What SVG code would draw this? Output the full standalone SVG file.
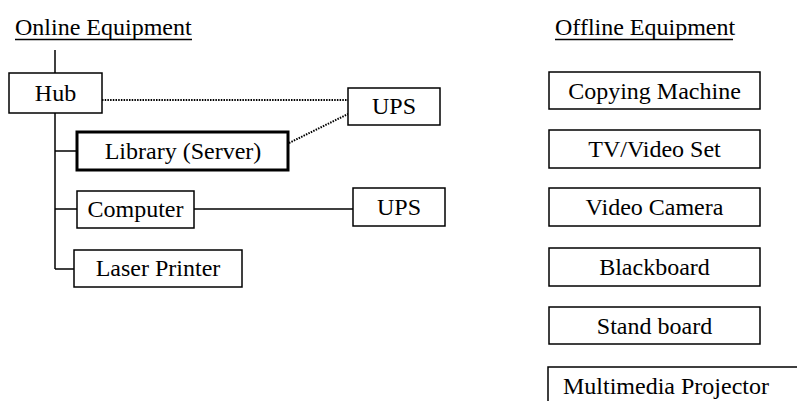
<svg xmlns="http://www.w3.org/2000/svg" width="797" height="401" viewBox="0 0 797 401">
<style>
text{font-family:"Liberation Serif","Times New Roman",serif;font-size:24px;fill:#000}
.c{text-anchor:middle}
.box{fill:#fff;stroke:#000;stroke-width:1.5}
.thick{fill:#fff;stroke:#000;stroke-width:3}
.ln{stroke:#000;stroke-width:1.5;fill:none}
.dot{stroke:#000;stroke-width:2;fill:none;stroke-dasharray:1.5 1.2}
</style>
<rect width="797" height="401" fill="#fff"/>
<g id="headings">
<text x="15" y="35">Online Equipment</text>
<line class="ln" x1="15" y1="39.5" x2="192" y2="39.5"/>
<text x="555" y="35">Offline Equipment</text>
<line class="ln" x1="555" y1="39.5" x2="733" y2="39.5"/>
</g>
<g id="connectors">
<line class="ln" x1="55" y1="50" x2="55" y2="73"/>
<line class="ln" x1="55" y1="113" x2="55" y2="269"/>
<line class="ln" x1="55" y1="151" x2="77" y2="151"/>
<line class="ln" x1="55" y1="209" x2="77" y2="209"/>
<line class="ln" x1="55" y1="269" x2="74" y2="269"/>
<line class="ln" x1="194" y1="209" x2="353" y2="209"/>
<line class="dot" x1="102" y1="100" x2="348" y2="100"/>
<line class="dot" x1="289" y1="143" x2="348" y2="114"/>
</g>
<g id="hub"><rect class="box" x="9" y="73" width="93" height="40"/><text class="c" x="55.5" y="101">Hub</text></g>
<g id="library"><rect class="thick" x="77" y="132" width="211" height="38"/><text class="c" x="183" y="159">Library (Server)</text></g>
<g id="computer"><rect class="box" x="77" y="191" width="117" height="37"/><text class="c" x="135.5" y="217">Computer</text></g>
<g id="laser"><rect class="box" x="74" y="250" width="168" height="37"/><text class="c" x="158" y="276">Laser Printer</text></g>
<g id="ups1"><rect class="box" x="348" y="88" width="92" height="37"/><text class="c" x="394" y="114">UPS</text></g>
<g id="ups2"><rect class="box" x="353" y="188" width="92" height="38"/><text class="c" x="399" y="215">UPS</text></g>
<g id="copying"><rect class="box" x="549" y="72" width="211" height="37"/><text class="c" x="654.5" y="99">Copying Machine</text></g>
<g id="tv"><rect class="box" x="549" y="130" width="211" height="38"/><text class="c" x="654.5" y="157">TV/Video Set</text></g>
<g id="camera"><rect class="box" x="549" y="188" width="211" height="38"/><text class="c" x="654.5" y="215">Video Camera</text></g>
<g id="blackboard"><rect class="box" x="549" y="248" width="211" height="38"/><text class="c" x="654.5" y="275">Blackboard</text></g>
<g id="standboard"><rect class="box" x="549" y="307" width="211" height="37"/><text class="c" x="654.5" y="334">Stand board</text></g>
<g id="projector"><rect class="box" x="548" y="367" width="260" height="50"/><text x="563" y="394">Multimedia Projector</text></g>
</svg>
